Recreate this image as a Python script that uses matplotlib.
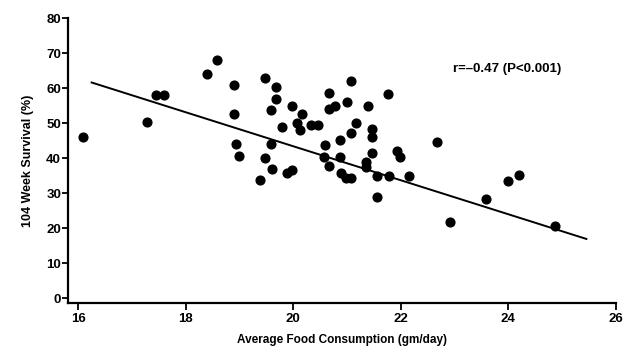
import matplotlib
matplotlib.use("Agg")
import matplotlib.pyplot as plt

plt.rcParams['font.family'] = ['Liberation Sans', 'DejaVu Sans']

# average food consumption (gm/day) and 104 week survival (%)
food = [16.08, 17.28, 17.45, 17.60, 18.40, 18.58, 18.90, 18.90, 18.94, 18.99,
        19.48, 19.48, 19.68, 19.68, 19.58, 19.98, 20.17, 19.79, 20.07, 20.13,
        19.59, 19.60, 19.38, 19.89, 19.98, 20.33, 20.46, 20.67, 20.67, 20.78,
        21.08, 20.99, 21.38, 21.76, 21.17, 21.08, 21.47, 21.47, 20.87, 20.58,
        20.57, 20.87, 20.67, 21.47, 21.36, 21.36, 21.93, 21.98, 22.67, 20.88,
        20.98, 21.07, 21.56, 21.56, 21.77, 22.15, 22.91, 23.59, 23.99, 24.20,
        24.87]
survival = [46.0, 50.2, 58.0, 58.0, 64.0, 68.1, 60.9, 52.5, 44.1, 40.7,
            62.9, 40.0, 60.4, 56.8, 53.8, 54.9, 52.5, 48.8, 50.1, 47.9,
            43.9, 37.0, 33.8, 35.7, 36.5, 49.6, 49.6, 58.5, 54.1, 54.9,
            61.9, 56.1, 54.9, 58.3, 50.1, 47.3, 48.4, 46.0, 45.1, 43.8,
            40.2, 40.4, 37.8, 41.5, 38.8, 37.5, 42.1, 40.2, 44.5, 35.7,
            34.3, 34.2, 34.9, 28.9, 34.9, 34.9, 21.8, 28.2, 33.4, 35.2,
            20.5]

# regression line end points
fit_x = [16.25, 25.45]
fit_y = [61.6, 16.9]

xticks = [16, 18, 20, 22, 24, 26]
yticks = [0, 10, 20, 30, 40, 50, 60, 70, 80]

fig = plt.figure(figsize=(6.26, 3.55), dpi=100)
ax = fig.add_axes([0.1086, 0.1465, 0.8754, 0.8025])

ax.plot(food, survival, 'o', color='black', markersize=6.3)
ax.plot(fit_x, fit_y, color='black', linewidth=1.4)

ax.set_xlim(15.81, 26.0)
ax.set_ylim(-1.4, 80)
ax.set_xticks(xticks)
ax.set_yticks(yticks)

for s in ['top', 'right']:
    ax.spines[s].set_visible(False)
for s in ['left', 'bottom']:
    ax.spines[s].set_linewidth(1.6)
ax.tick_params(axis='y', direction='out', length=4, width=1.3, labelsize=9.5, pad=1)
ax.tick_params(axis='x', direction='out', length=5, width=1.3, labelsize=9.5, pad=2.5)
for lab in ax.get_xticklabels() + ax.get_yticklabels():
    lab.set_fontweight('bold')

ax.set_xlabel('Average Food Consumption (gm/day)', fontsize=8.5, fontweight='bold', labelpad=6)
ax.set_ylabel('104 Week Survival (%)', fontsize=9, fontweight='bold', labelpad=9)

ax.text(22.97, 65.4, 'r=–0.47 (P<0.001)', fontsize=9.5, fontweight='bold', va='center', ha='left')

fig.savefig('out.png', dpi=100)
